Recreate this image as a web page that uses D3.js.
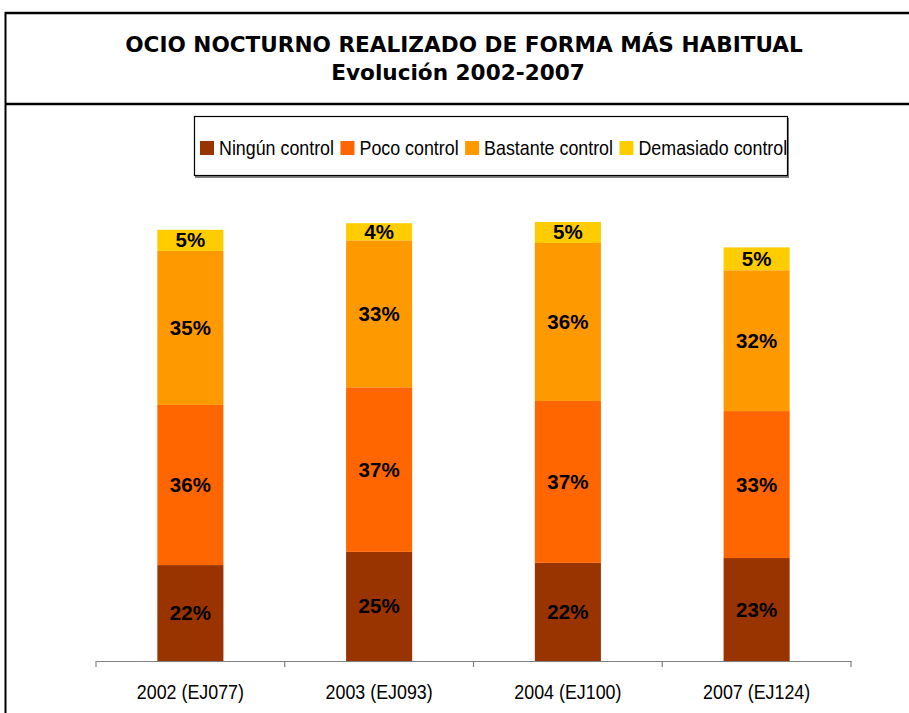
<!DOCTYPE html>
<html><head><meta charset="utf-8">
<script src="https://cdn.jsdelivr.net/npm/d3@7"></script>
<style>body{margin:0;background:#fff}svg{display:block}</style>
</head><body>
<script>
const categories = ["2002 (EJ077)", "2003 (EJ093)", "2004 (EJ100)", "2007 (EJ124)"];
const seriesNames = ["Ningún control", "Poco control", "Bastante control", "Demasiado control"];
const ningun = [21.8, 24.8, 22.3, 23.4];
const poco = [36.4, 37.4, 36.8, 33.4];
const bastante = [35.0, 33.4, 35.9, 32.0];
const demasiado = [4.8, 3.9, 4.8, 5.2];
const colors = ["#993300", "#FF6600", "#FF9900", "#FFCC00"];
const titleLines = ["OCIO NOCTURNO REALIZADO DE FORMA MÁS HABITUAL", "Evolución 2002-2007"];

const W = 909, H = 713;
const svg = d3.select("body").append("svg").attr("width", W).attr("height", H);
const narrow = "'Liberation Sans', Arial, sans-serif";
const NX = 0.85;

// frame
svg.append("line").attr("x1", 5).attr("x2", W).attr("y1", 13).attr("y2", 13).attr("stroke", "#000").attr("stroke-width", 2.5);
svg.append("line").attr("x1", 5).attr("x2", W).attr("y1", 104).attr("y2", 104).attr("stroke", "#000").attr("stroke-width", 2.5);
svg.append("line").attr("x1", 5.5).attr("x2", 5.5).attr("y1", 12).attr("y2", H).attr("stroke", "#000").attr("stroke-width", 2);

// title
const titleFont = "'DejaVu Sans', sans-serif";
const t1 = svg.append("text").attr("x", 464).attr("y", 52).attr("text-anchor", "middle")
  .attr("font-family", titleFont).attr("font-weight", "bold").attr("font-size", 20)
  .attr("fill", "#000").text(titleLines[0]);
const fs = 20 * 678 / t1.node().getComputedTextLength();
t1.attr("font-size", fs);
svg.append("text").attr("x", 458).attr("y", 80).attr("text-anchor", "middle")
  .attr("font-family", titleFont).attr("font-weight", "bold").attr("font-size", fs)
  .attr("fill", "#000").text(titleLines[1]);

// scales
const x = d3.scaleBand().domain(categories).range([96, 851]).padding(0);
const y = d3.scaleLinear().domain([0, 100]).range([661, 221]);
const barW = x.bandwidth() * 0.35;

const data = categories.map((c, i) => ({cat: c, v: [ningun[i], poco[i], bastante[i], demasiado[i]]}));
const keys = [0, 1, 2, 3];
const stack = d3.stack().keys(keys).value((d, k) => d.v[k]);
const layers = stack(data);

const g = svg.append("g");
layers.forEach((layer, k) => {
  g.selectAll(null).data(layer).enter().append("rect")
    .attr("x", d => x(d.data.cat) + x.bandwidth() / 2 - barW / 2)
    .attr("width", barW)
    .attr("y", d => y(d[1]))
    .attr("height", d => y(d[0]) - y(d[1]))
    .attr("fill", colors[k]);
});
layers.forEach((layer, k) => {
  g.selectAll(null).data(layer).enter().append("text")
    .attr("x", d => x(d.data.cat) + x.bandwidth() / 2)
    .attr("y", d => (y(d[0]) + y(d[1])) / 2 + 7)
    .attr("text-anchor", "middle")
    .attr("font-family", "'Liberation Sans', Arial, sans-serif")
    .attr("font-weight", "bold").attr("font-size", 20.5).attr("fill", "#000")
    .text(d => Math.round(d.data.v[k]) + "%");
});

// axis
const axis = d3.axisBottom(x).tickSize(0).tickFormat(d => d);
const ax = svg.append("g").attr("transform", "translate(0,661)").call(axis);
ax.select(".domain").attr("stroke", "#808080").attr("stroke-width", 1.2);
ax.selectAll(".tick line").remove();
ax.selectAll(".tick text").attr("y", 0).attr("dy", 0)
  .attr("transform", "translate(0,38) scale(" + NX + ",1)")
  .attr("font-family", narrow).attr("font-size", 21).attr("fill", "#000");
const bounds = categories.map(c => x(c)).concat([x.range()[1]]);
ax.selectAll(".bound").data(bounds).enter().append("line")
  .attr("x1", d => d).attr("x2", d => d).attr("y1", 0).attr("y2", 6)
  .attr("stroke", "#808080").attr("stroke-width", 1.2);

// legend
const lg = svg.append("g");
lg.append("rect").attr("x", 195).attr("y", 118).attr("width", 594).attr("height", 60).attr("fill", "#808080");
lg.append("rect").attr("x", 194.5).attr("y", 116.5).attr("width", 593).attr("height", 59).attr("fill", "#fff").attr("stroke", "#000").attr("stroke-width", 1.2);
let lx = 200;
seriesNames.forEach((name, i) => {
  lg.append("rect").attr("x", lx).attr("y", 141).attr("width", 14).attr("height", 14).attr("fill", colors[i]);
  const t = lg.append("text").attr("transform", "translate(" + (lx + 19) + ",155) scale(" + NX + ",1)")
    .attr("font-family", narrow).attr("font-size", 21).attr("fill", "#000").text(name);
  lx += 19 + t.node().getComputedTextLength() * NX + 6.5;
});
</script>
</body></html>
